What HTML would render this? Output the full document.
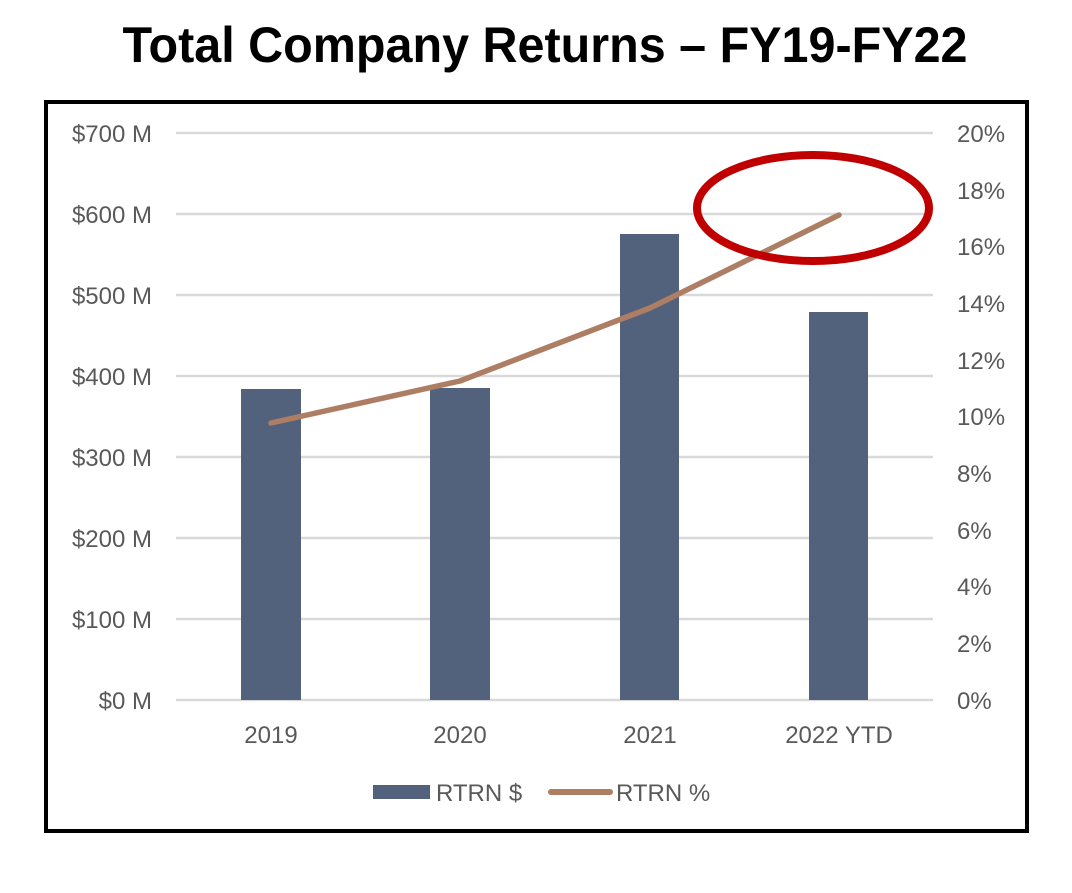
<!DOCTYPE html>
<html><head><style>
body{margin:0;background:#fff;width:1072px;height:888px;overflow:hidden}
</style></head><body>
<svg width="1072" height="888" xmlns="http://www.w3.org/2000/svg" font-family="Liberation Sans, sans-serif">
<text x="545" y="62" text-anchor="middle" font-size="50" font-weight="bold" fill="#000" textLength="845" lengthAdjust="spacingAndGlyphs">Total Company Returns – FY19-FY22</text>
<rect x="46" y="102" width="981" height="729" fill="none" stroke="#000" stroke-width="4"/>
<g stroke="#d9d9d9" stroke-width="2.5">
<line x1="176" y1="133" x2="933" y2="133"/><line x1="176" y1="214" x2="933" y2="214"/>
<line x1="176" y1="295" x2="933" y2="295"/><line x1="176" y1="376" x2="933" y2="376"/>
<line x1="176" y1="457" x2="933" y2="457"/><line x1="176" y1="538" x2="933" y2="538"/>
<line x1="176" y1="619" x2="933" y2="619"/><line x1="176" y1="700" x2="933" y2="700"/>
</g>
<g font-size="24" fill="#595959" text-anchor="end">
<text x="152" y="142">$700 M</text><text x="152" y="223">$600 M</text><text x="152" y="304">$500 M</text>
<text x="152" y="385">$400 M</text><text x="152" y="466">$300 M</text><text x="152" y="547">$200 M</text>
<text x="152" y="628">$100 M</text><text x="152" y="709">$0 M</text>
</g>
<g font-size="24" fill="#595959">
<text x="957" y="142">20%</text><text x="957" y="199">18%</text><text x="957" y="255">16%</text>
<text x="957" y="312">14%</text><text x="957" y="369">12%</text><text x="957" y="425">10%</text>
<text x="957" y="482">8%</text><text x="957" y="539">6%</text><text x="957" y="595">4%</text>
<text x="957" y="652">2%</text><text x="957" y="709">0%</text>
</g>
<g fill="#52627c">
<rect x="241" y="389" width="60" height="311"/><rect x="430" y="388" width="60" height="312"/>
<rect x="620" y="234" width="59" height="466"/><rect x="809" y="312" width="59" height="388"/>
</g>
<polyline points="271,423 460,381 650,308 839,215" fill="none" stroke="#ad7e64" stroke-width="5.5" stroke-linecap="round" stroke-linejoin="round"/>
<ellipse cx="813" cy="208" rx="116" ry="53" fill="none" stroke="#c00000" stroke-width="8"/>
<g font-size="24" fill="#595959" text-anchor="middle">
<text x="271" y="743">2019</text><text x="460" y="743">2020</text><text x="650" y="743">2021</text><text x="839" y="743">2022 YTD</text>
</g>
<rect x="373" y="785" width="57" height="14" fill="#52627c"/>
<text x="436" y="801" font-size="24" fill="#595959">RTRN $</text>
<line x1="551" y1="792" x2="610" y2="792" stroke="#ad7e64" stroke-width="6" stroke-linecap="round"/>
<text x="616" y="801" font-size="24" fill="#595959">RTRN %</text>
</svg>
</body></html>
